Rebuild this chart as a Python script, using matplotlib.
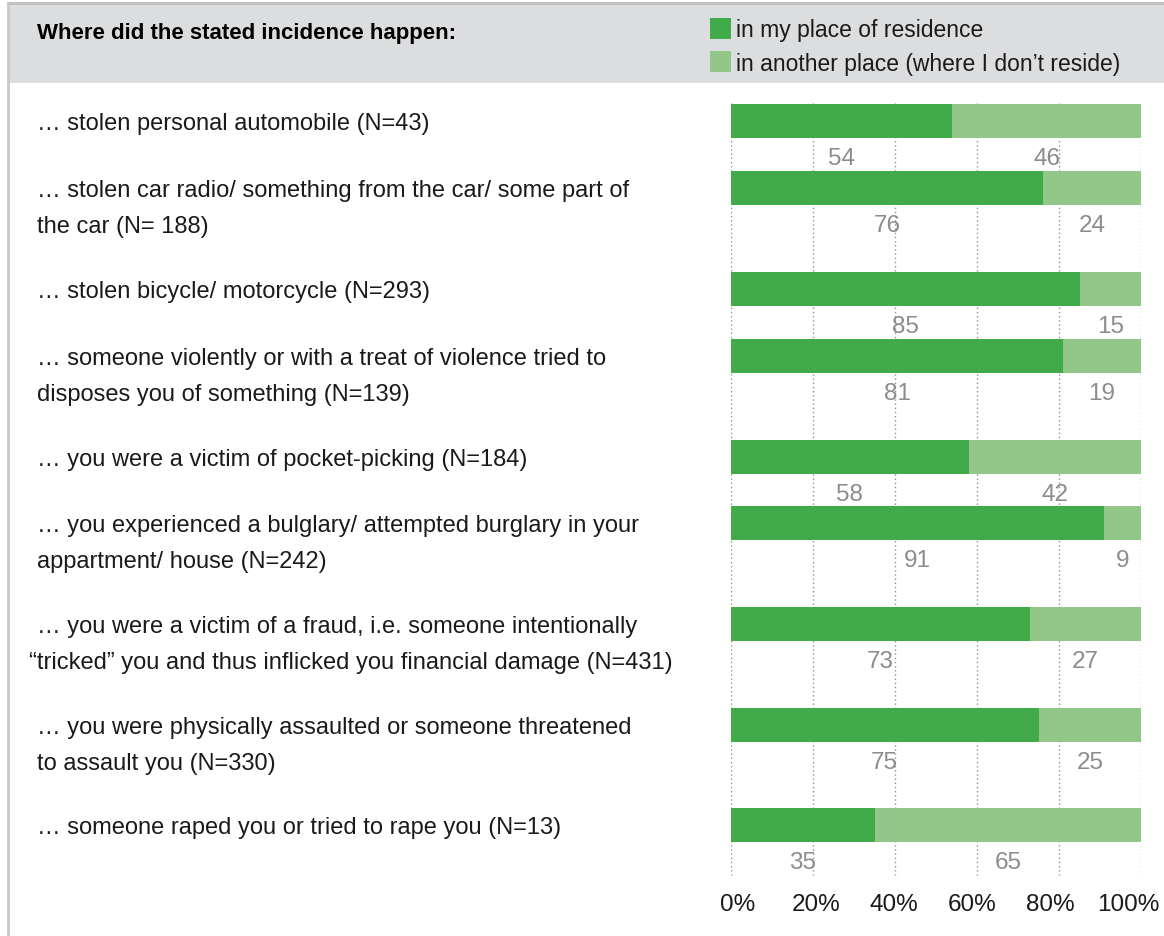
import matplotlib.pyplot as plt
from matplotlib.patches import Rectangle

plt.rcParams['font.family'] = ['Liberation Sans', 'DejaVu Sans']

categories = [
    "… stolen personal automobile (N=43)",
    "… stolen car radio/ something from the car/ some part of\nthe car (N= 188)",
    "… stolen bicycle/ motorcycle (N=293)",
    "… someone violently or with a treat of violence tried to\ndisposes you of something (N=139)",
    "… you were a victim of pocket-picking (N=184)",
    "… you experienced a bulglary/ attempted burglary in your\nappartment/ house (N=242)",
    "… you were a victim of a fraud, i.e. someone intentionally\n“tricked” you and thus inflicked you financial damage (N=431)",
    "… you were physically assaulted or someone threatened\nto assault you (N=330)",
    "… someone raped you or tried to rape you (N=13)",
]
residence = [54, 76, 85, 81, 58, 91, 73, 75, 35]
elsewhere = [46, 24, 15, 19, 42, 9, 27, 25, 65]
series_names = ["in my place of residence", "in another place (where I don’t reside)"]
title = "Where did the stated incidence happen:"
tick_vals = [0, 20, 40, 60, 80, 100]

# layout (pixel rows of the bar centres, as in the original)
row_y = [121, 188, 289, 356, 457, 523, 624, 725, 825]
bar_h = 34

W, H = 1164, 936
dark = "#41ab4a"
light = "#93c689"
grey_txt = "#8c8c8c"
txt = "#1a1a1a"
dy = 3  # text nudge down so glyphs sit like the original

fig = plt.figure(figsize=(W / 100, H / 100), dpi=100)

# header band + frame lines
fig.patches.append(Rectangle((8 / W, 1 - 83 / H), 1, 80 / H, transform=fig.transFigure,
                             facecolor="#dcdddf", edgecolor="none", zorder=0))
fig.lines.append(plt.Line2D([8 / W, 1], [1 - 3 / H, 1 - 3 / H], transform=fig.transFigure,
                            color="#bfbfbf", lw=2))
fig.lines.append(plt.Line2D([8 / W, 8 / W], [0, 1 - 3 / H], transform=fig.transFigure,
                            color="#c8c8c8", lw=2))

fs = 17
fig.text(37 / W, 1 - (30 + dy) / H, title, fontsize=16, fontweight="bold", va="center", ha="left")

# legend
for k, (name, col) in enumerate(zip(series_names, [dark, light])):
    yy = 28 + 33 * k
    fig.patches.append(Rectangle((710 / W, 1 - (yy + 11) / H), 21 / W, 21 / H,
                                 transform=fig.transFigure, facecolor=col, edgecolor="none"))
    fig.text(736 / W, 1 - (yy + dy) / H, name, fontsize=16.5, va="center", ha="left", color=txt)

# bar axes: x in percent, y in pixel rows
ax = fig.add_axes([731 / W, 0, 410 / W, 1])
ax.set_xlim(0, 100)
ax.set_ylim(H, 0)
ax.axis("off")

for x in tick_vals:
    ax.plot([x, x], [103, 875], color="#8f8f8f", lw=1, ls=(0, (1, 2)), zorder=1)
    # tick labels sit a bit tighter than the grid in the original
    ax.text(1.7 + x * 0.951, 902 + dy, f"{x}%", fontsize=17.5, ha="center", va="center", color=txt)

for y, a, b, lab in zip(row_y, residence, elsewhere, categories):
    ax.barh(y, a, height=bar_h, left=0, color=dark, zorder=2)
    ax.barh(y, b, height=bar_h, left=a, color=light, zorder=2)
    ly = y + bar_h / 2 + 18 + dy
    ax.text(a / 2, ly, str(a), fontsize=17.5, ha="center", va="center", color=grey_txt)
    ax.text(a + b / 2, ly, str(b), fontsize=17.5, ha="center", va="center", color=grey_txt)
    for j, line in enumerate(lab.split("\n")):
        x0 = 29 if line.startswith("“") else 37
        fig.text(x0 / W, 1 - (y + 36 * j + dy) / H, line, fontsize=fs, va="center", ha="left", color=txt)

fig.savefig("out.png", dpi=100)
